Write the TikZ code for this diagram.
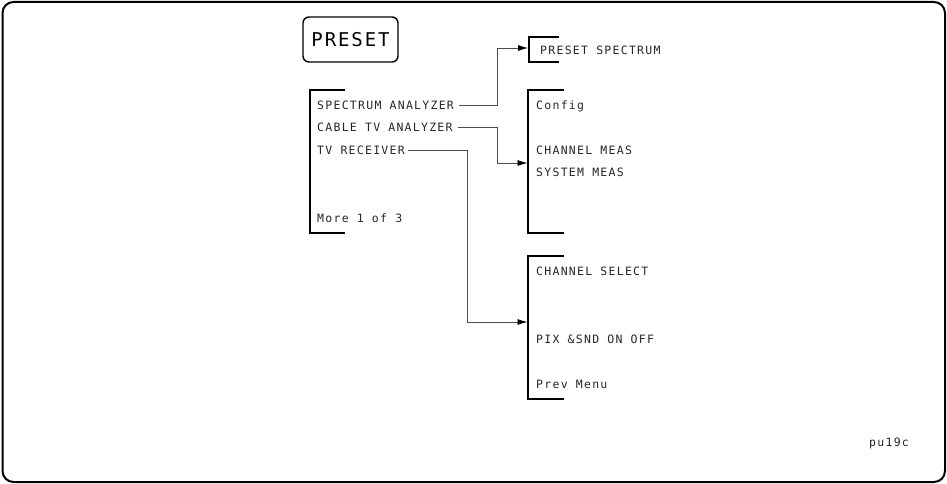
\documentclass[tikz,border=0pt]{standalone}
\usepackage{fontspec}
\usetikzlibrary{arrows.meta}
\newfontfamily\hpfont[LetterSpace=11]{DejaVu Sans Mono}
\newfontfamily\hpbigfont[LetterSpace=10]{DejaVu Sans Mono}
\tikzset{
  lbl/.style={anchor=west, inner sep=0pt, text height=8.4pt, text depth=0pt,
    font=\hpfont\fontsize{11.5}{12}\selectfont, text=black!85},
  bracket/.style={line width=1.6pt, black},
  conn/.style={line width=0.8pt, black!70, -{Latex[length=10pt,width=6pt,black]}},
  keybox/.style={draw, line width=1.4pt, rounded corners=6pt, minimum width=95pt,
    minimum height=45pt, inner sep=0pt, font=\hpbigfont\fontsize{19}{20}\selectfont}
}
\begin{document}
\begin{tikzpicture}[x=1pt,y=-1pt]
\useasboundingbox (0,0) rectangle (947,484);
\draw[line width=2pt, rounded corners=11pt] (2.5,2) rectangle (945,482);

% PRESET key
\node[keybox] (key) at (350.5,39.5) {PRESET};

% main menu bracket
\draw[bracket] (345,90) -- (310,90) -- (310,233) -- (345,233);
\node[lbl] (sa) at (317,105) {SPECTRUM ANALYZER};
\node[lbl] (ca) at (317,127) {CABLE TV ANALYZER};
\node[lbl] (tv) at (317,150) {TV RECEIVER};
\node[lbl] (more) at (317,218) {More 1 of 3};

% preset spectrum bracket
\draw[bracket] (559,37) -- (529,37) -- (529,62) -- (559,62);
\node[lbl] (ps) at (540,50) {PRESET SPECTRUM};

% cable tv bracket
\draw[bracket] (564,90) -- (528,90) -- (528,233) -- (564,233);
\node[lbl] (cfg) at (536,105) {Config};
\node[lbl] (cm) at (536,150) {CHANNEL MEAS};
\node[lbl] (sm) at (536,172) {SYSTEM MEAS};

% tv receiver bracket
\draw[bracket] (564,256) -- (528,256) -- (528,399) -- (564,399);
\node[lbl] (cs) at (536,271) {CHANNEL SELECT};
\node[lbl] (pix) at (536,339) {PIX \&SND ON OFF};
\node[lbl] (pm) at (536,384) {Prev Menu};

\node[lbl] (id) at (869,442) {pu19c};

% connector targets
\coordinate (t1) at (528,48);
\coordinate (t2) at (527.5,163);
\coordinate (t3) at (527.5,322);
\coordinate (j1) at (497,0);
\coordinate (j3) at (467,0);

\draw[conn] ([xshift=5pt]sa.east) -- (sa.east -| j1) |- (t1);
\draw[conn] ([xshift=5pt]ca.east) -- (ca.east -| j1) |- (t2);
\draw[conn] ([xshift=3pt]tv.east) -- (tv.east -| j3) |- (t3);
\end{tikzpicture}
\end{document}
